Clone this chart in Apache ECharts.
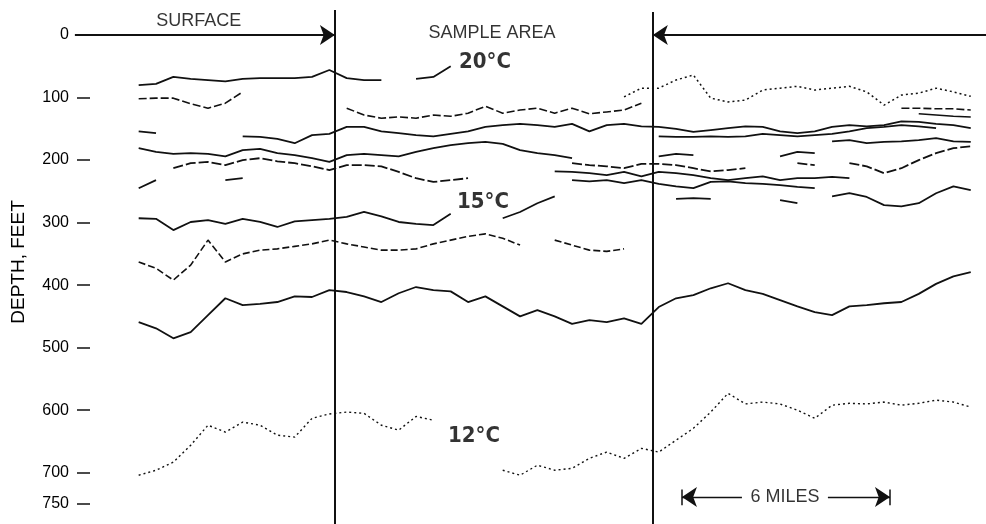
<!DOCTYPE html>
<html>
<head>
<meta charset="utf-8">
<script src="https://cdn.jsdelivr.net/npm/echarts@6/dist/echarts.min.js"></script>
<style>
  html, body { margin: 0; padding: 0; background: #fff; }
  #main { width: 986px; height: 524px; }
</style>
</head>
<body>
<div id="main"></div>
<script>
var _ = null;

// distance along the track, miles (one sample every half mile)
var sampleMiles = [4, 4.5, 5, 5.5, 6, 6.5, 7, 7.5, 8, 8.5, 9, 9.5,
  10, 10.5, 11, 11.5, 12, 12.5, 13, 13.5, 14, 14.5, 15, 15.5,
  16, 16.5, 17, 17.5, 18, 18.5, 19, 19.5, 20, 20.5, 21, 21.5,
  22, 22.5, 23, 23.5, 24, 24.5, 25, 25.5, 26, 26.5, 27, 27.5, 28];

// isotherm traces, depth in feet
var traceA = [80, 78, 67, 70, 72, 74, 70, 69, 69, 69, 67, 56,
  69, 72, 72, _, 70, 67, 50, _, _, _, _, _,
  _, _, _, _, _, _, _, _, _, _, _, _,
  _, _, _, _, _, _, _, _, _, _, _, _, _];
var traceARight = [_, _, _, _, _, _, _, _, _, _, _, _,
  _, _, _, _, _, _, _, _, _, _, _, _,
  _, _, _, _, 99, 85, 85, 72, 64, 101, 107, 104,
  88, 85, 82, 88, 85, 82, 91, 112, 96, 93, 85, 91, 98];
var traceB = [102, 101, 101, 110, 117, 109, 91, _, _, _, _, _,
  117, 128, 133, 131, 133, 128, 130, 125, 114, 125, 120, 117,
  125, 117, 126, 123, 120, 109, _, _, _, _, _, _,
  _, _, _, _, _, _, _, _, 117, 117, 118, 118, 120];
var traceB2 = [_, _, _, _, _, _, _, _, _, _, _, _,
  _, _, _, _, _, _, _, _, _, _, _, _,
  _, _, _, _, _, _, _, _, _, _, _, _,
  _, _, _, _, _, _, _, _, _, 126, 128, 130, 131];
var traceC = [154, 157, _, _, _, _, 162, 163, 166, 173, 160, 158,
  147, 147, 154, 157, 160, 162, 158, 154, 147, 144, 142, 144,
  147, 142, 154, 144, 142, 146, 147, 150, 155, 152, 149, 146,
  147, 154, 157, 154, 147, 144, 146, 144, 138, 139, 142, 144, 149];
var traceD = [181, 187, 190, 189, 190, 194, 184, 182, 189, 192, 197, 203,
  192, 190, 192, 194, 187, 181, 176, 173, 171, 174, 184, 189,
  192, 197, _, _, _, _, 162, 163, 163, 162, 163, 162,
  158, 160, 162, 160, 158, 154, 149, 147, 144, 146, 149, _, _];
var traceD3 = [_, _, _, _, _, _, _, _, _, _, _, _,
  _, _, _, _, _, _, _, _, _, _, _, _,
  _, _, _, _, _, _, _, _, _, _, _, _,
  _, _, _, _, 170, 168, 173, 171, 170, 168, 165, 170, 171];
var traceE = [_, _, 213, 205, 203, 208, 200, 197, 202, 205, 210, 216,
  208, 208, 210, 219, 229, 235, 232, 229, _, _, _, _,
  _, 205, 208, 210, 213, 206, 206, 208, 213, 218, 216, 213,
  _, _, 205, 208, _, 205, 210, 221, 213, 200, 189, 181, 178];
var traceM = [_, _, _, _, _, _, _, _, _, _, _, _,
  _, _, _, _, _, _, _, _, _, _, _, _,
  _, _, _, _, _, _, 194, 190, 192, _, _, _,
  _, 194, 187, 189, _, _, _, _, _, _, _, _, _];
var traceF = [245, 232, _, _, _, 232, 229, _, _, _, _, _,
  _, _, _, _, _, _, _, _, _, _, _, _,
  218, 219, 221, 224, 219, 226, 219, 221, 224, 229, 232, 229,
  226, 232, 229, 229, 227, 229, _, _, _, _, _, _, _];
var traceG = [_, _, _, _, _, _, _, _, _, _, _, _,
  _, _, _, _, _, _, _, _, _, _, _, _,
  _, 232, 234, 232, 237, 232, 238, 242, 245, 235, 234, 237,
  238, 240, 243, 245, _, _, _, _, _, _, _, _, _];
var traceH = [_, _, _, _, _, _, _, _, _, _, _, _,
  _, _, _, _, _, _, _, _, _, _, _, _,
  _, _, _, _, _, _, _, 262, 261, 262, _, _,
  _, 264, 269, _, 258, 253, 259, 272, 274, 269, 253, 242, 248];
var traceI = [293, 294, 312, 299, 296, 302, 294, 299, 307, 298, 296, 294,
  291, 283, 290, 299, 302, 304, 286, _, _, 293, 283, 269,
  258, _, _, _, _, _, _, _, _, _, _, _,
  _, _, _, _, _, _, _, _, _, _, _, _, _];
var traceJ = [363, 373, 392, 368, 328, 363, 350, 344, 342, 338, 334, 328,
  334, 339, 344, 344, 342, 334, 328, 322, 318, 325, 336, _,
  328, 336, 344, 346, 342, _, _, _, _, _, _, _,
  _, _, _, _, _, _, _, _, _, _, _, _, _];
var traceK = [459, 469, 485, 475, 448, 421, 432, 430, 427, 418, 419, 408,
  411, 418, 427, 413, 403, 408, 410, 427, 418, 434, 450, 440,
  450, 462, 456, 459, 453, 462, 435, 421, 416, 405, 397, 408,
  414, 424, 434, 443, 448, 434, 432, 429, 427, 414, 398, 386, 379];
var traceL = [704, 696, 683, 656, 624, 635, 619, 624, 640, 643, 613, 606,
  603, 605, 624, 632, 610, 616, _, _, _, 696, 704, 688,
  696, 693, 677, 667, 677, 661, 667, 648, 629, 603, 573, 590,
  587, 590, 600, 613, 592, 589, 590, 587, 592, 589, 584, 587, 595];

var labelDepths = [0, 100, 200, 300, 400, 500, 600, 700, 750];
var tickDepths = [100, 200, 300, 400, 500, 600, 700, 750];

// survey layout, miles
var sampleStart = 9.66;
var sampleEnd = 18.83;
var scaleStart = 19.67;
var scaleEnd = 25.67;

var ink = '#111';
var font = 'Liberation Sans, Arial, sans-serif';
var narrow = 'Liberation Sans Narrow, DejaVu Sans Condensed, Arial Narrow, sans-serif';

function trace(arr, width, type) {
  return {
    type: 'line',
    data: sampleMiles.map(function (m, i) { return [m, arr[i]]; }),
    showSymbol: false,
    connectNulls: false,
    silent: true,
    clip: false,
    lineStyle: { color: ink, width: width, type: type || 'solid' }
  };
}

function note(x, y, text, size, family, weight) {
  return {
    value: [x, y],
    label: { formatter: text, fontSize: size, fontFamily: family, fontWeight: weight || 'normal' }
  };
}

var myChart = echarts.init(document.getElementById('main'));

var option = {
  animation: false,
  backgroundColor: '#fff',
  grid: { left: 0, right: 0, top: 0, bottom: 0 },
  xAxis: { type: 'value', min: 0, max: 28.44, show: false },
  yAxis: {
    type: 'value', inverse: true, min: -56, max: 782,
    position: 'left', offset: -90,
    axisLine: { show: false },
    axisTick: { show: true, length: 13, customValues: tickDepths, lineStyle: { color: ink, width: 1.5 } },
    axisLabel: { customValues: labelDepths, margin: 21, color: '#000', fontSize: 16, fontFamily: font },
    splitLine: { show: false },
    name: 'DEPTH, FEET', nameLocation: 'middle', nameGap: 62, nameRotate: 90,
    nameTextStyle: { fontSize: 19, color: '#000', fontFamily: font }
  },
  series: [
    trace(traceA, 1.8),
    trace(traceARight, 1.5, [2, 3]),
    trace(traceB, 1.6, [8, 3]),
    trace(traceB2, 1.6),
    trace(traceC, 1.8),
    trace(traceD, 1.8),
    trace(traceD3, 1.8),
    trace(traceE, 1.8, [10, 3]),
    trace(traceM, 1.8),
    trace(traceF, 1.8),
    trace(traceG, 1.8),
    trace(traceH, 1.8),
    trace(traceI, 1.8),
    trace(traceJ, 1.6, [7, 3]),
    trace(traceK, 1.8),
    trace(traceL, 1.4, [2, 3]),
    {
      // frame lines
      type: 'lines', coordinateSystem: 'cartesian2d', silent: true,
      lineStyle: { color: ink, width: 2, opacity: 1 },
      data: [
        { coords: [[sampleStart, -40], [sampleStart, 782]] },
        { coords: [[sampleEnd, -37], [sampleEnd, 782]] },
        { coords: [[scaleStart, 727], [scaleStart, 752]], lineStyle: { width: 1.5 } },
        { coords: [[scaleEnd, 727], [scaleEnd, 752]], lineStyle: { width: 1.5 } }
      ]
    },
    {
      // arrows
      type: 'lines', coordinateSystem: 'cartesian2d', silent: true,
      symbol: ['none', 'arrow'], symbolSize: [6, 15],
      lineStyle: { color: ink, width: 2, opacity: 1 },
      data: [
        { coords: [[2.16, 0], [sampleStart, 0]] },
        { coords: [[28.44, 0], [sampleEnd, 0]] },
        { coords: [[21.4, 739], [scaleStart, 739]], lineStyle: { width: 1.3 } },
        { coords: [[23.88, 739], [scaleEnd, 739]], lineStyle: { width: 1.3 } }
      ]
    },
    {
      // annotations
      type: 'scatter', symbolSize: 0, silent: true, clip: false,
      label: { show: true, position: 'inside', color: '#000', textBorderWidth: 0 },
      data: [
        note(5.73, -23, 'SURFACE', 18, font),
        note(14.19, -3, 'SAMPLE AREA', 18, font),
        note(13.99, 43, '20°C', 22, narrow, 'bold'),
        note(13.93, 267, '15°C', 22, narrow, 'bold'),
        note(13.67, 642, '12°C', 22, narrow, 'bold'),
        note(22.64, 739, '6 MILES', 18, font)
      ]
    }
  ]
};

myChart.setOption(option);
</script>
</body>
</html>
